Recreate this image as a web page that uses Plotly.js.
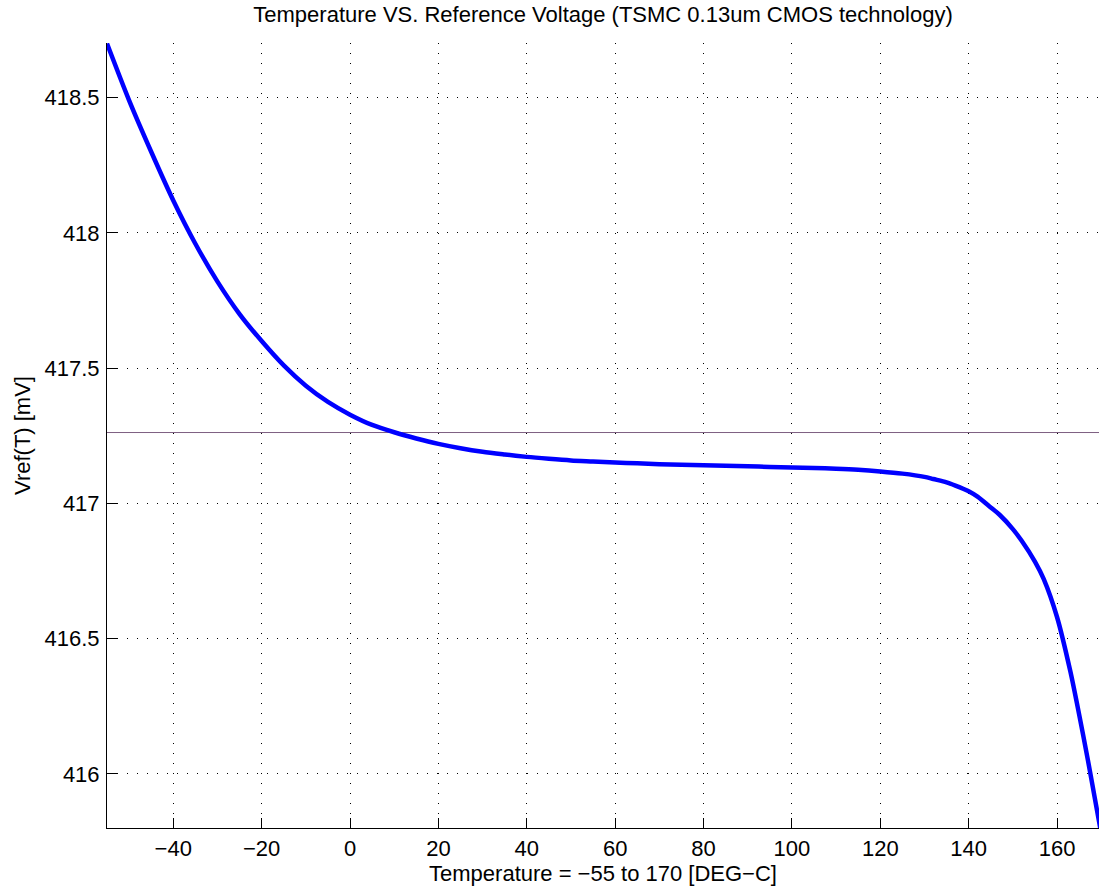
<!DOCTYPE html>
<html>
<head>
<meta charset="utf-8">
<script src="https://cdn.plot.ly/plotly-3.0.1.min.js"></script>
<style>html,body{margin:0;padding:0;background:#fff;}#chart{width:1099px;height:887px;}</style>
</head>
<body>
<div id="chart"></div>
<script>
// Temperature [deg C]
const temperature = [-55, -50, -45, -40, -35, -30, -25, -20, -15, -10, -5, 0, 5, 10, 15, 20, 25, 30, 35, 40, 45, 50, 55, 60, 65, 70, 75, 80, 85, 90, 95, 100, 105, 110, 115, 120, 125, 130, 132, 135, 137, 140, 142, 145, 147, 150, 152, 155, 157, 160, 163, 165, 167, 168, 169, 170];
// Reference voltage [mV]
const vref = [418.70, 418.49, 418.30, 418.12, 417.96, 417.82, 417.70, 417.60, 417.51, 417.435, 417.375, 417.328, 417.29, 417.263, 417.24, 417.22, 417.204, 417.191, 417.181, 417.172, 417.165, 417.159, 417.155, 417.151, 417.148, 417.145, 417.143, 417.141, 417.139, 417.137, 417.135, 417.133, 417.131, 417.128, 417.124, 417.118, 417.110, 417.098, 417.090, 417.078, 417.066, 417.045, 417.025, 416.985, 416.958, 416.905, 416.862, 416.785, 416.72, 416.58, 416.38, 416.22, 416.05, 415.96, 415.87, 415.78];
// Horizontal reference level
const refLevelX = [-55, 170];
const refLevelY = [417.262, 417.262];

const xTicks = [-40, -20, 0, 20, 40, 60, 80, 100, 120, 140, 160];
const xTickText = ['\u221240', '\u221220', '0', '20', '40', '60', '80', '100', '120', '140', '160'];
const yTicks = [416, 416.5, 417, 417.5, 418, 418.5];
const yTickText = ['416', '416.5', '417', '417.5', '418', '418.5'];

const FONT = 'Liberation Sans, Arial, Helvetica, sans-serif';
const FS = 22;

const traces = [
  {
    x: refLevelX, y: refLevelY, type: 'scatter', mode: 'lines',
    line: {color: 'rgb(125,95,130)', width: 1}, hoverinfo: 'skip', showlegend: false
  },
  {
    x: temperature, y: vref, type: 'scatter', mode: 'lines',
    line: {color: '#0000ff', width: 4.5, shape: 'spline', smoothing: 0.8},
    showlegend: false
  }
];

const axisCommon = {
  showline: true, linecolor: '#000', linewidth: 1, mirror: false,
  ticks: 'inside', ticklen: 10, tickwidth: 1, tickcolor: '#000',
  showgrid: true, gridcolor: '#000', gridwidth: 1, griddash: '1px,9px',
  zeroline: false,
  tickfont: {family: FONT, size: FS, color: '#000'},
  tickmode: 'array'
};

const layout = {
  width: 1099, height: 887,
  margin: {l: 107, r: 0, t: 43, b: 59},
  paper_bgcolor: '#fff', plot_bgcolor: '#fff',
  font: {family: FONT, size: FS, color: '#000'},
  title: {
    text: 'Temperature VS. Reference Voltage (TSMC 0.13um CMOS technology)',
    font: {family: FONT, size: FS, color: '#000'},
    x: 0.5, xref: 'paper', xanchor: 'center',
    y: 0.993, yref: 'container', yanchor: 'top'
  },
  xaxis: Object.assign({}, axisCommon, {
    range: [-55, 169.5],
    tickvals: xTicks, ticktext: xTickText,
    ticklabelstandoff: 1,
    title: {text: 'Temperature = \u221255 to 170 [DEG\u2212C]', font: {family: FONT, size: FS, color: '#000'}, standoff: 3}
  }),
  yaxis: Object.assign({}, axisCommon, {
    range: [415.80, 418.702],
    tickvals: yTicks, ticktext: yTickText,
    ticklabelstandoff: 2,
    title: {text: 'Vref(T) [mV]', font: {family: FONT, size: FS, color: '#000'}, standoff: 7}
  }),
  showlegend: false
};

Plotly.newPlot('chart', traces, layout, {displayModeBar: false, staticPlot: true});
</script>
</body>
</html>
